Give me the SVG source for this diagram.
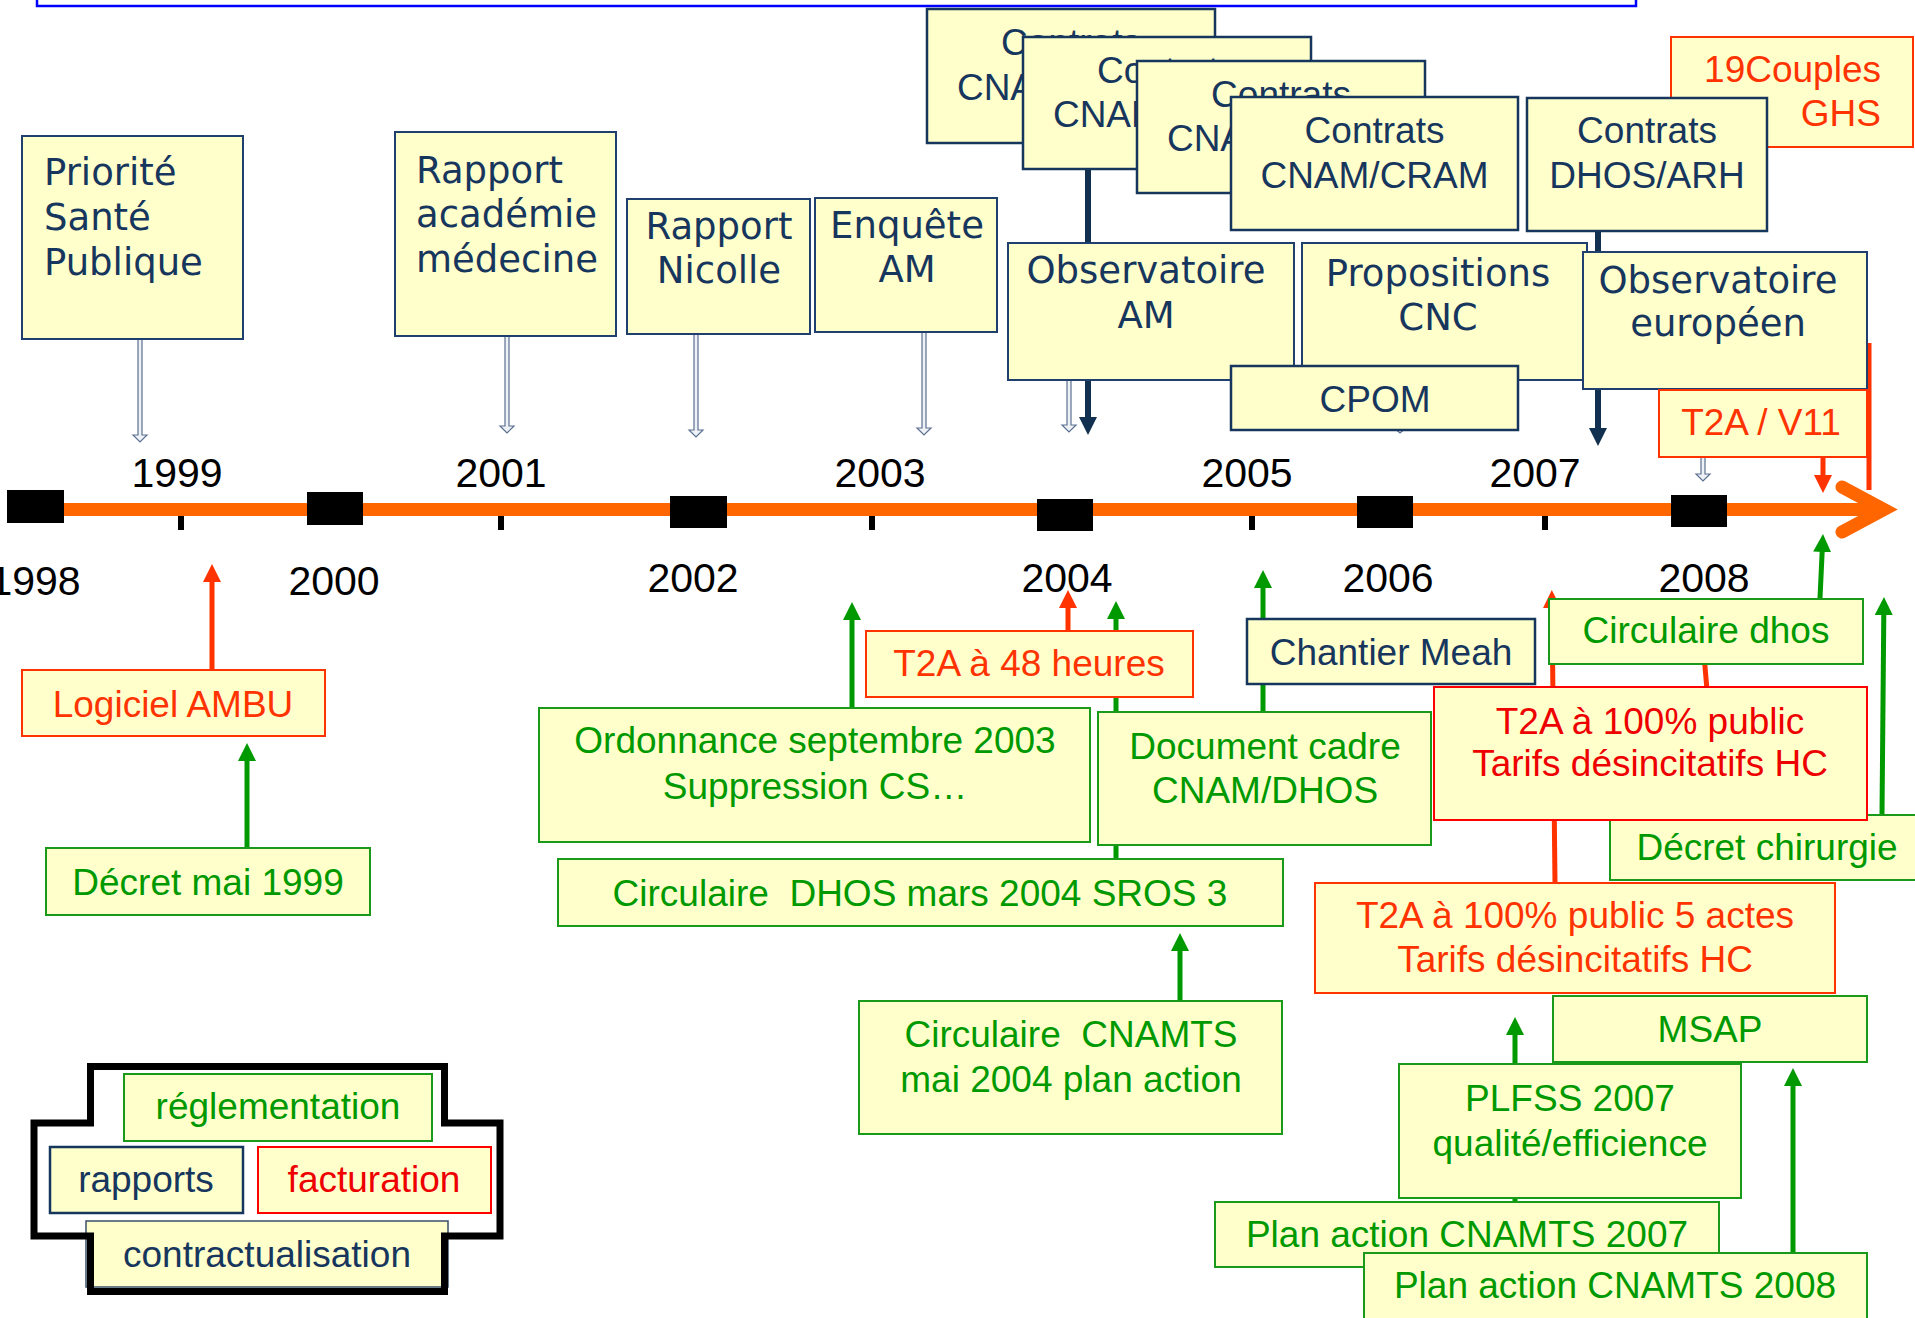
<svg xmlns="http://www.w3.org/2000/svg" width="1915" height="1318" viewBox="0 0 1915 1318">
<style>
.bx{fill:#ffffcc}
.nv{stroke:#17365d;stroke-width:2.5}
.nt{stroke:#1f3f6f;stroke-width:2}
.gn{stroke:#1a9a1a;stroke-width:2}
.or{stroke:#ff3300;stroke-width:2}
.rd{stroke:#ff0000;stroke-width:2}
.tg{font-family:"DejaVu Sans",sans-serif;font-size:37px;fill:#17365d}
.ta{font-family:"Liberation Sans",Arial,sans-serif;font-size:37px}
.m{text-anchor:middle}
.fn{fill:#17365d}
.fg{fill:#009900}
.fo{fill:#ff3300}
.fr{fill:#ee0000}
.yr{font-family:"Liberation Sans",Arial,sans-serif;font-size:41px;fill:#000;text-anchor:middle}
.ag{stroke:#009900;stroke-width:5;fill:none}
.ao{stroke:#ff3300;stroke-width:5;fill:none}
.an{stroke:#12304f;stroke-width:6;fill:none}
.th{fill:#eef2f6;stroke:#5b7090;stroke-width:1.2}
</style>
<defs>
<marker id="hg" markerUnits="userSpaceOnUse" viewBox="0 0 18 18" markerWidth="18" markerHeight="18" refX="1" refY="9" orient="auto"><path d="M0,0 L18,9 L0,18 z" fill="#009900"/></marker>
<marker id="ho" markerUnits="userSpaceOnUse" viewBox="0 0 18 18" markerWidth="18" markerHeight="18" refX="1" refY="9" orient="auto"><path d="M0,0 L18,9 L0,18 z" fill="#ff3300"/></marker>
<marker id="hn" markerUnits="userSpaceOnUse" viewBox="0 0 18 18" markerWidth="18" markerHeight="18" refX="1" refY="9" orient="auto"><path d="M0,0 L18,9 L0,18 z" fill="#12304f"/></marker>
</defs>

<rect x="37" y="-20" width="1599" height="26" fill="none" stroke="#0000ff" stroke-width="2.5"/>

<g id="timeline">
<line x1="30" y1="509.5" x2="1880" y2="509.5" stroke="#ff6600" stroke-width="13"/>
<polyline points="1842,487 1884,509.5 1842,532" fill="none" stroke="#ff6600" stroke-width="13" stroke-linecap="round" stroke-linejoin="miter"/>
<rect x="7" y="490" width="57" height="33" fill="#000"/>
<rect x="307" y="492" width="56" height="33" fill="#000"/>
<rect x="670" y="496" width="57" height="32" fill="#000"/>
<rect x="1037" y="499" width="56" height="32" fill="#000"/>
<rect x="1357" y="496" width="56" height="32" fill="#000"/>
<rect x="1671" y="495" width="56" height="32" fill="#000"/>
<rect x="178" y="516" width="6" height="14" fill="#000"/>
<rect x="498" y="516" width="6" height="14" fill="#000"/>
<rect x="869" y="516" width="6" height="14" fill="#000"/>
<rect x="1249" y="516" width="6" height="14" fill="#000"/>
<rect x="1542" y="516" width="6" height="14" fill="#000"/>
<text class="yr" x="177" y="487">1999</text>
<text class="yr" x="501" y="487">2001</text>
<text class="yr" x="880" y="487">2003</text>
<text class="yr" x="1247" y="487">2005</text>
<text class="yr" x="1535" y="487">2007</text>
<text class="yr" x="35" y="595">1998</text>
<text class="yr" x="334" y="595">2000</text>
<text class="yr" x="693" y="592">2002</text>
<text class="yr" x="1067" y="592">2004</text>
<text class="yr" x="1388" y="592">2006</text>
<text class="yr" x="1704" y="592">2008</text>
</g>

<g id="connectors">
<path class="th" d="M138,339 L138,435 L133,435 L140,442 L147,435 L142,435 L142,339 Z"/>
<path class="th" d="M505,336 L505,426 L500,426 L507,433 L514,426 L509,426 L509,336 Z"/>
<path class="th" d="M694,334 L694,430 L689,430 L696,437 L703,430 L698,430 L698,334 Z"/>
<path class="th" d="M922,332 L922,428 L917,428 L924,435 L931,428 L926,428 L926,332 Z"/>
<path class="th" d="M1067,380 L1067,425 L1062,425 L1069,432 L1076,425 L1071,425 L1071,380 Z"/>
<path class="th" d="M1398,420 L1398,427 L1393,427 L1400,433 L1407,427 L1402,427 L1402,420 Z"/>
<path class="th" d="M1701,457 L1701,474 L1696,474 L1703,481 L1710,474 L1705,474 L1705,457 Z"/>
<line class="an" x1="1088" y1="169" x2="1088" y2="418" marker-end="url(#hn)"/>
<line class="an" x1="1598" y1="231" x2="1598" y2="429" marker-end="url(#hn)"/>
<line class="ao" x1="1823" y1="457" x2="1823" y2="476" marker-end="url(#ho)"/>
<line x1="1869" y1="343" x2="1869" y2="490" stroke="#ff3300" stroke-width="5"/>
<line class="ao" x1="212" y1="670" x2="212" y2="581" marker-end="url(#ho)"/>
<line class="ag" x1="247" y1="848" x2="247" y2="760" marker-end="url(#hg)"/>
<line class="ag" x1="852" y1="708" x2="852" y2="619" marker-end="url(#hg)"/>
<line class="ao" x1="1068" y1="631" x2="1068" y2="607" marker-end="url(#ho)"/>
<line class="ag" x1="1116" y1="859" x2="1116" y2="618" marker-end="url(#hg)"/>
<line class="ag" x1="1180" y1="1001" x2="1180" y2="950" marker-end="url(#hg)"/>
<line class="ag" x1="1263" y1="712" x2="1263" y2="587" marker-end="url(#hg)"/>
<line class="ao" x1="1555" y1="883" x2="1552" y2="607" marker-end="url(#ho)"/>
<line x1="1707" y1="690" x2="1704" y2="655" stroke="#ff3300" stroke-width="5"/>
<line class="ag" x1="1820" y1="598" x2="1822.2" y2="551" marker-end="url(#hg)"/>
<line class="ag" x1="1882" y1="815" x2="1883.8" y2="614" marker-end="url(#hg)"/>
<line class="ag" x1="1515" y1="1202" x2="1515" y2="1034" marker-end="url(#hg)"/>
<line class="ag" x1="1793" y1="1253" x2="1793" y2="1085" marker-end="url(#hg)"/>
</g>

<g id="n-priorite"><rect class="bx nt" x="22" y="136" width="221" height="203"/>
<text class="tg" x="44" y="185">Priorité</text><text class="tg" x="44" y="230">Santé</text><text class="tg" x="44" y="275">Publique</text></g>
<g id="n-academie"><rect class="bx nt" x="395" y="132" width="221" height="204"/>
<text class="tg" x="416" y="183">Rapport</text><text class="tg" x="416" y="227">académie</text><text class="tg" x="416" y="272">médecine</text></g>
<g id="n-nicolle"><rect class="bx nt" x="627" y="199" width="183" height="135"/>
<text class="tg m" x="719" y="239">Rapport</text><text class="tg m" x="719" y="283">Nicolle</text></g>
<g id="n-enquete"><rect class="bx nt" x="815" y="198" width="182" height="134"/>
<text class="tg m" x="907" y="238">Enquête</text><text class="tg m" x="907" y="282">AM</text></g>

<g id="n-contrats1"><rect class="bx nv" x="927" y="9" width="288" height="134"/>
<text class="ta m fn" x="1071" y="55">Contrats</text><text class="ta m fn" x="1071" y="100">CNAM/CRAM</text></g>
<g id="n-contrats2"><rect class="bx nv" x="1023" y="37" width="288" height="132"/>
<text class="ta m fn" x="1167" y="83">Contrats</text><text class="ta m fn" x="1167" y="127">CNAM/CRAM</text></g>
<g id="n-contrats3"><rect class="bx nv" x="1137" y="61" width="288" height="132"/>
<text class="ta m fn" x="1281" y="107">Contrats</text><text class="ta m fn" x="1281" y="151">CNAM/CRAM</text></g>
<g id="n-contrats4"><rect class="bx nv" x="1231" y="97" width="287" height="133"/>
<text class="ta m fn" x="1374.5" y="143">Contrats</text><text class="ta m fn" x="1374.5" y="188">CNAM/CRAM</text></g>
<g id="n-couples"><rect class="bx or" x="1671" y="37" width="242" height="110"/>
<text class="ta fo" x="1881" y="82" text-anchor="end">19Couples</text><text class="ta fo" x="1881" y="126" text-anchor="end">GHS</text></g>
<g id="n-dhosarh"><rect class="bx nv" x="1527" y="98" width="240" height="133"/>
<text class="ta m fn" x="1647" y="143">Contrats</text><text class="ta m fn" x="1647" y="188">DHOS/ARH</text></g>

<g id="n-obsam"><rect class="bx nt" x="1008" y="243" width="286" height="137"/>
<text class="tg m" x="1146" y="283">Observatoire</text><text class="tg m" x="1146" y="328">AM</text></g>
<g id="n-propositions"><rect class="bx nt" x="1302" y="243" width="285" height="137"/>
<text class="tg m" x="1438" y="286">Propositions</text><text class="tg m" x="1438" y="330">CNC</text></g>
<g id="n-cpom"><rect class="bx nv" x="1231" y="366" width="287" height="64"/>
<text class="ta m fn" x="1375" y="412">CPOM</text></g>
<g id="n-obseu"><rect class="bx nt" x="1583" y="252" width="284" height="137"/>
<text class="tg m" x="1718" y="293">Observatoire</text><text class="tg m" x="1718" y="336">européen</text></g>
<g id="n-t2av11"><rect class="bx or" x="1659" y="390" width="208" height="67"/>
<text class="ta m fo" x="1761" y="435">T2A / V11</text></g>

<g id="n-ambu"><rect class="bx or" x="22" y="670" width="303" height="66"/>
<text class="ta m fo" x="173" y="717">Logiciel AMBU</text></g>
<g id="n-decret1999"><rect class="bx gn" x="46" y="848" width="324" height="67"/>
<text class="ta m fg" x="208" y="895">Décret mai 1999</text></g>
<g id="n-ordonnance"><rect class="bx gn" x="539" y="708" width="551" height="134"/>
<text class="ta m fg" x="815" y="753">Ordonnance septembre 2003</text><text class="ta m fg" x="815" y="799">Suppression CS…</text></g>
<g id="n-t2a48"><rect class="bx or" x="866" y="631" width="327" height="66"/>
<text class="ta m fo" x="1029" y="676">T2A à 48 heures</text></g>
<g id="n-doccadre"><rect class="bx gn" x="1098" y="712" width="333" height="133"/>
<text class="ta m fg" x="1265" y="759">Document cadre</text><text class="ta m fg" x="1265" y="803">CNAM/DHOS</text></g>
<g id="n-meah"><rect class="bx nv" x="1247" y="619" width="288" height="65"/>
<text class="ta m fn" x="1391" y="665">Chantier Meah</text></g>
<g id="n-circdhos2004"><rect class="bx gn" x="558" y="859" width="725" height="67"/>
<text class="ta m fg" x="920" y="906">Circulaire&#160; DHOS mars 2004 SROS 3</text></g>
<g id="n-circcnamts"><rect class="bx gn" x="859" y="1001" width="423" height="133"/>
<text class="ta m fg" x="1071" y="1047">Circulaire&#160; CNAMTS</text><text class="ta m fg" x="1071" y="1092">mai 2004 plan action</text></g>

<g id="n-circdhos"><rect class="bx gn" x="1549" y="599" width="314" height="65"/>
<text class="ta m fg" x="1706" y="643">Circulaire dhos</text></g>
<g id="n-decretchir"><rect class="bx gn" x="1610" y="815" width="320" height="65"/>
<text class="ta m fg" x="1767" y="860">Décret chirurgie</text></g>
<g id="n-t2a100"><rect class="bx rd" x="1434" y="687" width="433" height="133"/>
<text class="ta m fr" x="1650" y="734">T2A à 100% public</text><text class="ta m fr" x="1650" y="776">Tarifs désincitatifs HC</text></g>
<g id="n-t2a5actes"><rect class="bx or" x="1315" y="883" width="520" height="110"/>
<text class="ta m fo" x="1575" y="928">T2A à 100% public 5 actes</text><text class="ta m fo" x="1575" y="972">Tarifs désincitatifs HC</text></g>
<g id="n-msap"><rect class="bx gn" x="1553" y="996" width="314" height="66"/>
<text class="ta m fg" x="1710" y="1042">MSAP</text></g>
<g id="n-plfss"><rect class="bx gn" x="1399" y="1064" width="342" height="134"/>
<text class="ta m fg" x="1570" y="1111">PLFSS 2007</text><text class="ta m fg" x="1570" y="1156">qualité/efficience</text></g>
<g id="n-plan2007"><rect class="bx gn" x="1215" y="1202" width="504" height="65"/>
<text class="ta m fg" x="1467" y="1247">Plan action CNAMTS 2007</text></g>
<g id="n-plan2008"><rect class="bx gn" x="1364" y="1253" width="503" height="70"/>
<text class="ta m fg" x="1615" y="1298">Plan action CNAMTS 2008</text></g>

<g id="legend">
<g id="l-reglementation"><rect class="bx gn" x="124" y="1074" width="308" height="67"/>
<text class="ta m fg" x="278" y="1119">réglementation</text></g>
<g id="l-rapports"><rect class="bx nv" x="50" y="1147" width="193" height="66"/>
<text class="ta m fn" x="146" y="1192">rapports</text></g>
<g id="l-facturation"><rect class="bx rd" x="258" y="1147" width="233" height="66"/>
<text class="ta m fr" x="374" y="1192">facturation</text></g>
<g id="l-contractualisation"><rect class="bx" x="86" y="1221" width="362" height="66" stroke="#3a5068" stroke-width="1.5"/>
<text class="ta m fn" x="267" y="1267">contractualisation</text></g>
<polygon points="90.5,1066.5 444.5,1066.5 444.5,1123 500,1123 500,1236 444.5,1236 444.5,1291.5 90.5,1291.5 90.5,1236 34,1236 34,1123 90.5,1123" fill="none" stroke="#000" stroke-width="7"/>
</g>
</svg>
